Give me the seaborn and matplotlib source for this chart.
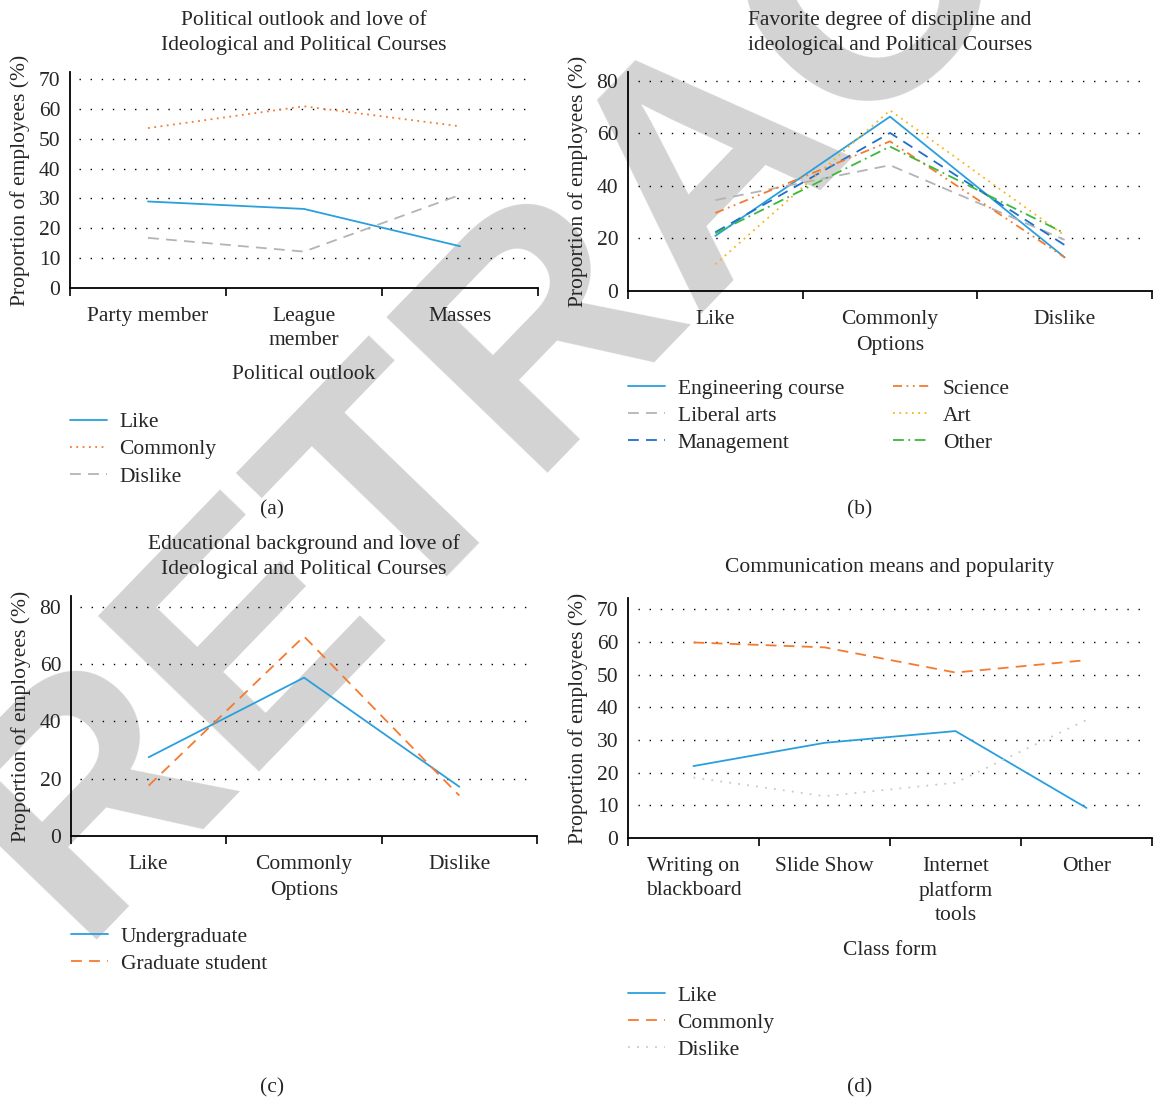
import numpy as np
import pandas as pd
import matplotlib
matplotlib.use("Agg")
import matplotlib.pyplot as plt
import seaborn as sns

# ---- data -------------------------------------------------------------
outlook_cats = ["Party member", "League\nmember", "Masses"]
outlook_like = [29.0, 26.5, 14.0]
outlook_common = [53.6, 60.9, 54.2]
outlook_dislike = [16.8, 12.2, 31.2]

options = ["Like", "Commonly", "Dislike"]
disc_names = ["Engineering course", "Liberal arts", "Management", "Science", "Art", "Other"]
disc_engineering = [21.0, 66.4, 12.8]
disc_liberal = [34.6, 47.9, 19.5]
disc_management = [22.4, 60.2, 17.5]
disc_science = [29.7, 57.0, 12.8]
disc_art = [10.2, 68.8, 21.1]
disc_other = [22.0, 55.0, 22.0]

edu_undergrad = [27.5, 55.3, 17.2]
edu_graduate = [17.6, 69.7, 14.1]

class_forms = ["Writing on\nblackboard", "Slide Show", "Internet\nplatform\ntools", "Other"]
form_like = [22.0, 29.1, 32.7, 9.2]
form_common = [59.8, 58.3, 50.6, 54.4]
form_dislike = [18.5, 12.8, 16.9, 36.1]

# ---- style ------------------------------------------------------------
sns.set_theme(style="white")
plt.rcParams["font.family"] = ["Liberation Serif", "DejaVu Serif"]
FS = 15.5
plt.rcParams["font.size"] = FS

BLUE = "#2b9fdc"
ORANGE = "#f47a30"
GRAY = "#b4b4b4"
LIGHTGRAY = "#c8c8c8"
DARKBLUE = "#1f70c8"
GOLD = "#f9b418"
GREEN = "#3cb83c"

W, H = 1153, 1100
fig = plt.figure(figsize=(W / 100, H / 100), dpi=100)


def box(left, right, top, bottom):
    return [left / W, 1 - bottom / H, (right - left) / W, (bottom - top) / H]


def style_axes(ax, cats, ymax, ystep):
    n = len(cats)
    ax.set_facecolor("none")
    ax.set_xlim(-0.5, n - 0.5)
    ax.set_ylim(0, ymax)
    ax.set_xticks(np.arange(n))
    ax.set_xticklabels(cats, fontsize=FS, linespacing=1.32)
    ax.set_xticks(np.arange(n + 1) - 0.5, minor=True)
    ax.tick_params(axis="x", which="major", length=0, pad=14)
    ax.tick_params(axis="x", which="minor", length=6, width=1.2, color="black",
                   bottom=True)
    yt = np.arange(0, ymax, ystep)
    ax.set_yticks(yt)
    ax.tick_params(axis="y", length=0, pad=7, labelsize=FS)
    for y in yt[1:]:
        ax.axhline(y, xmin=0.02, xmax=0.98, color="black", lw=1.0,
                   linestyle=(0, (1, 7)), zorder=0)
    sns.despine(ax=ax)
    for side in ["left", "bottom"]:
        ax.spines[side].set_color("black")
        ax.spines[side].set_linewidth(1.3)
    ax.set_ylabel("Proportion of employees (%)", fontsize=FS, labelpad=6)


def draw(ax, values, label, color, ls):
    sns.lineplot(x=np.arange(len(values)), y=values, color=color, linestyle=ls,
                 lw=1.3, label=label, ax=ax)


def legend(ax, y, ncol=1, colspace=2.0):
    ax.legend(loc="upper left", bbox_to_anchor=(0, y), frameon=False, ncol=ncol,
              fontsize=FS, handlelength=1.7, handletextpad=0.6, labelspacing=0.33,
              borderaxespad=0, borderpad=0, columnspacing=colspace)


# ---- (a) ----------------------------------------------------------------
ax1 = fig.add_axes(box(70, 538, 72, 288))
draw(ax1, outlook_like, "Like", BLUE, "-")
draw(ax1, outlook_common, "Commonly", ORANGE, (0, (1, 2.5)))
draw(ax1, outlook_dislike, "Dislike", GRAY, (0, (6, 4)))
style_axes(ax1, outlook_cats, 72.4, 10)
ax1.set_title("Political outlook and love of\nIdeological and Political Courses",
              fontsize=FS, pad=16, linespacing=1.38)
ax1.set_xlabel("Political outlook", fontsize=FS, labelpad=11)
legend(ax1, -0.575)

# ---- (b) ----------------------------------------------------------------
ax2 = fig.add_axes(box(628, 1152, 72, 291))
draw(ax2, disc_engineering, disc_names[0], BLUE, "-")
draw(ax2, disc_liberal, disc_names[1], GRAY, (0, (6, 4)))
draw(ax2, disc_management, disc_names[2], DARKBLUE, (0, (6, 4)))
draw(ax2, disc_science, disc_names[3], ORANGE, (0, (5, 2.5, 1, 2.5, 1, 2.5)))
draw(ax2, disc_art, disc_names[4], GOLD, (0, (1, 2.5)))
draw(ax2, disc_other, disc_names[5], GREEN, (0, (6, 2.5, 1, 2.5)))
style_axes(ax2, options, 83.4, 20)
ax2.set_title("Favorite degree of discipline and\nideological and Political Courses",
              fontsize=FS, pad=16, linespacing=1.38)
ax2.set_xlabel("Options", fontsize=FS, labelpad=5)
legend(ax2, -0.40, ncol=2, colspace=2.3)

# ---- (c) ----------------------------------------------------------------
ax3 = fig.add_axes(box(71, 537, 596, 836))
draw(ax3, edu_undergrad, "Undergraduate", BLUE, "-")
draw(ax3, edu_graduate, "Graduate student", ORANGE, (0, (6, 4)))
style_axes(ax3, options, 83.8, 20)
ax3.set_title("Educational background and love of\nIdeological and Political Courses",
              fontsize=FS, pad=16, linespacing=1.38)
ax3.set_xlabel("Options", fontsize=FS, labelpad=5)
legend(ax3, -0.378)

# ---- (d) ----------------------------------------------------------------
ax4 = fig.add_axes(box(628, 1152, 598, 838))
draw(ax4, form_like, "Like", BLUE, "-")
draw(ax4, form_common, "Commonly", ORANGE, (0, (6, 4)))
draw(ax4, form_dislike, "Dislike", LIGHTGRAY, (0, (1, 4)))
style_axes(ax4, class_forms, 73.4, 10)
ax4.set_title("Communication means and popularity", fontsize=FS, pad=19)
ax4.set_xlabel("Class form", fontsize=FS, labelpad=12)
legend(ax4, -0.615)

# ---- panel letters and watermark ------------------------------------------
for lab, px, py in [("(a)", 272, 510), ("(b)", 860, 510), ("(c)", 272, 1088), ("(d)", 860, 1088)]:
    fig.text(px / W, 1 - py / H, lab, ha="center", va="center", fontsize=FS)

fig.text(710 / W, 1 - 160 / H, "RETRACTED", family="Liberation Sans", weight="bold",
         fontsize=234, color="#d3d3d3", rotation=46, rotation_mode="anchor",
         ha="center", va="center", zorder=-5)

fig.savefig("out.png", dpi=100, facecolor="white")
